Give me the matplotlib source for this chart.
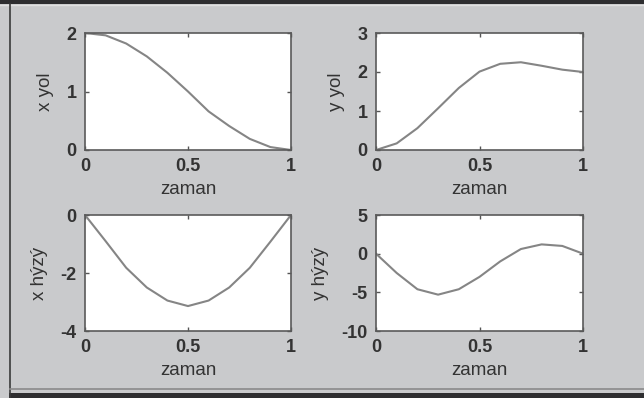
import matplotlib
matplotlib.use("Agg")
import matplotlib.pyplot as plt
from matplotlib.patches import Rectangle
from matplotlib.lines import Line2D

# time samples
zaman = [0.0, 0.1, 0.2, 0.3, 0.4, 0.5, 0.6, 0.7, 0.8, 0.9, 1.0]

# positions and velocities
x_yol = [2.0, 1.96, 1.82, 1.6, 1.32, 1.0, 0.66, 0.41, 0.19, 0.05, 0.0]
y_yol = [0.0, 0.17, 0.56, 1.07, 1.59, 2.01, 2.21, 2.25, 2.16, 2.06, 2.0]
x_hiz = [0.0, -0.9, -1.82, -2.5, -2.95, -3.14, -2.95, -2.5, -1.82, -0.92, 0.0]
y_hiz = [0.0, -2.5, -4.6, -5.3, -4.6, -3.0, -1.0, 0.6, 1.2, 1.0, 0.0]

ylabels = ["x yol", "y yol", "x hýzý", "y hýzý"]
ylims = [(0, 2), (0, 3), (-4, 0), (-10, 5)]
yticks = [[0, 1, 2], [0, 1, 2, 3], [-4, -2, 0], [-10, -5, 0, 5]]
xticks = [0, 0.5, 1]
xtick_labels = ["0", "0.5", "1"]

W, H = 644, 398
plt.rcParams["font.family"] = ["Liberation Sans", "DejaVu Sans"]
plt.rcParams["axes.unicode_minus"] = False
fig = plt.figure(figsize=(W / 100, H / 100), dpi=100)
fig.patch.set_facecolor("#c9cacc")

# window frame
fig.add_artist(Rectangle((0, 1 - 4 / H), 1, 4 / H, transform=fig.transFigure,
                         facecolor="#2e2e30", edgecolor="none"))
fig.add_artist(Line2D([0, 1], [1 - 5 / H, 1 - 5 / H], transform=fig.transFigure,
                      color="#e0e0e0", lw=1))
fig.add_artist(Line2D([9.5 / W, 9.5 / W], [0, 1 - 4 / H], transform=fig.transFigure,
                      color="#3a3a3a", lw=1.2))
fig.add_artist(Line2D([9.5 / W, 1], [1 - 389 / H, 1 - 389 / H], transform=fig.transFigure,
                      color="#8a8a8a", lw=1.2))
fig.add_artist(Rectangle((9 / W, 0), 1, 5 / H, transform=fig.transFigure,
                         facecolor="#2e2e30", edgecolor="none"))

# axes boxes in pixel coords (left, top, right, bottom)
boxes = [(85, 33, 291, 150), (376, 33, 583, 150),
         (85, 215, 291, 331), (376, 215, 583, 331)]
series = [x_yol, y_yol, x_hiz, y_hiz]

txt = "#333333"
for i, (l, t, r, b) in enumerate(boxes):
    ax = fig.add_axes([l / W, 1 - b / H, (r - l) / W, (b - t) / H])
    ax.set_facecolor("white")
    ax.plot(zaman, series[i], color="#858585", lw=1.5)
    ax.set_xlim(0, 1)
    ax.set_ylim(*ylims[i])
    ax.set_xticks(xticks)
    ax.set_xticklabels(xtick_labels, fontweight="bold")
    ax.set_yticks(yticks[i])
    ax.set_yticklabels([str(v) for v in yticks[i]], fontweight="bold")
    ax.tick_params(direction="in", length=3, width=1, color="#555555",
                   top=True, right=True, labelsize=13, labelcolor=txt, pad=6)
    for s in ax.spines.values():
        s.set_color("#5a5a5a")
        s.set_linewidth(1.2)
    ax.set_xlabel("zaman", fontsize=13.5, color=txt, labelpad=4)
    ax.set_ylabel(ylabels[i], fontsize=13.5, color=txt, labelpad=9)

fig.savefig("out.png", dpi=100, facecolor=fig.get_facecolor())
